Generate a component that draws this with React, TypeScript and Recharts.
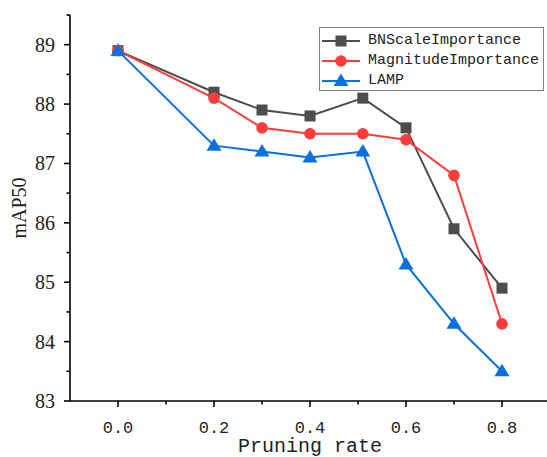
import { LineChart, Line, XAxis, YAxis, Legend } from 'recharts';

const rates = [0, 0.2, 0.3, 0.4, 0.51, 0.6, 0.7, 0.8];
const bnScale = [88.9, 88.2, 87.9, 87.8, 88.1, 87.6, 85.9, 84.9];
const magnitude = [88.9, 88.1, 87.6, 87.5, 87.5, 87.4, 86.8, 84.3];
const lamp = [88.9, 87.3, 87.2, 87.1, 87.2, 85.3, 84.3, 83.5];

const xTicks = [0, 0.1, 0.2, 0.3, 0.4, 0.5, 0.6, 0.7, 0.8, 0.9];
const yTicks = [83, 83.5, 84, 84.5, 85, 85.5, 86, 86.5, 87, 87.5, 88, 88.5, 89, 89.5];

const data = rates.map((r, i) => ({
  rate: r,
  bn: bnScale[i],
  mag: magnitude[i],
  lamp: lamp[i],
}));

const SERIES = [
  { key: 'bn', name: 'BNScaleImportance', color: '#4d4d4d', shape: 'square' },
  { key: 'mag', name: 'MagnitudeImportance', color: '#ff3b3b', shape: 'circle' },
  { key: 'lamp', name: 'LAMP', color: '#0a6fdf', shape: 'triangle' },
];

const MONO = '"Liberation Mono", monospace';
const SERIF = '"Liberation Serif", serif';

function marker(shape: string, color: string, cx: number, cy: number, key?: string | number) {
  if (shape === 'square') {
    return <rect key={key} x={cx - 5.5} y={cy - 5.5} width={11} height={11} fill={color} />;
  }
  if (shape === 'circle') {
    return <circle key={key} cx={cx} cy={cy} r={5.8} fill={color} />;
  }
  return (
    <polygon
      key={key}
      points={`${cx},${cy - 7.5} ${cx + 7.5},${cy + 5} ${cx - 7.5},${cy + 5}`}
      fill={color}
    />
  );
}

function XTick({ x, y, payload }: any) {
  const tenth = Math.round(payload.value * 10);
  const major = tenth % 2 === 0;
  return (
    <g>
      <line x1={x} x2={x} y1={y} y2={y + (major ? 6 : 3.5)} stroke="#000" strokeWidth={1.6} />
      {major && (
        <text x={x} y={y + 32} textAnchor="middle" fontFamily={MONO} fontSize={17} fill="#222">
          {payload.value.toFixed(1)}
        </text>
      )}
    </g>
  );
}

function YTick({ x, y, payload }: any) {
  const major = Number.isInteger(payload.value);
  return (
    <g>
      <line x1={x - (major ? 6 : 3.5)} x2={x} y1={y} y2={y} stroke="#000" strokeWidth={1.6} />
      {major && (
        <text x={x - 15} y={y + 7} textAnchor="end" fontFamily={SERIF} fontSize={20} fill="#222">
          {payload.value}
        </text>
      )}
    </g>
  );
}

// legend keeps the series order instead of the payload's sorted order
function LegendBox({ payload }: any) {
  const entries = SERIES.filter((s) => (payload || []).some((p: any) => p.dataKey === s.key));
  return (
    <div
      style={{
        width: 225,
        height: 64,
        boxSizing: 'border-box',
        border: '1px solid #808080',
        background: '#fff',
        paddingTop: 3,
        fontFamily: MONO,
        fontSize: 15,
        color: '#222',
        overflow: 'hidden',
      }}
    >
      {entries.map((s) => (
        <div key={s.key} style={{ display: 'flex', alignItems: 'center', height: 20, whiteSpace: 'nowrap' }}>
          <svg width={46} height={20} style={{ flex: 'none' }}>
            <line x1={2} x2={40} y1={10} y2={10} stroke={s.color} strokeWidth={2} />
            {marker(s.shape, s.color, 21, 10)}
          </svg>
          <span style={{ marginLeft: 2, lineHeight: '20px' }}>{s.name}</span>
        </div>
      ))}
    </div>
  );
}

export default function App() {
  return (
    <div
      style={{
        position: 'absolute',
        left: 0,
        top: 0,
        width: 547,
        height: 457,
        overflow: 'hidden',
        background: '#fff',
      }}
    >
      <LineChart width={547} height={457} data={data} margin={{ top: 15, right: -3, bottom: 0, left: 0 }}>
        <XAxis
          dataKey="rate"
          type="number"
          domain={[-0.1, 0.9]}
          ticks={xTicks}
          interval={0}
          tick={<XTick />}
          tickLine={false}
          tickSize={0}
          tickMargin={0}
          height={56}
          axisLine={{ stroke: '#000', strokeWidth: 1.6 }}
          label={{
            value: 'Pruning rate',
            position: 'insideBottom',
            offset: 5,
            fontFamily: MONO,
            fontSize: 20,
            fill: '#222',
          }}
        />
        <YAxis
          type="number"
          domain={[83, 89.5]}
          ticks={yTicks}
          interval={0}
          tick={<YTick />}
          tickLine={false}
          tickSize={0}
          tickMargin={0}
          width={70}
          axisLine={{ stroke: '#000', strokeWidth: 1.6 }}
          label={{
            value: 'mAP50',
            angle: -90,
            position: 'center',
            dx: -16,
            fontFamily: SERIF,
            fontSize: 20,
            fill: '#222',
          }}
        />
        <Legend
          layout="vertical"
          align="center"
          verticalAlign="middle"
          wrapperStyle={{ left: 319, top: 27, width: 225 }}
          content={<LegendBox />}
        />
        {SERIES.map((s) => (
          <Line
            key={s.key}
            dataKey={s.key}
            name={s.name}
            stroke={s.color}
            strokeWidth={2}
            isAnimationActive={false}
            dot={(p: any) => marker(s.shape, s.color, p.cx, p.cy, p.index)}
            activeDot={false}
          />
        ))}
      </LineChart>
    </div>
  );
}
